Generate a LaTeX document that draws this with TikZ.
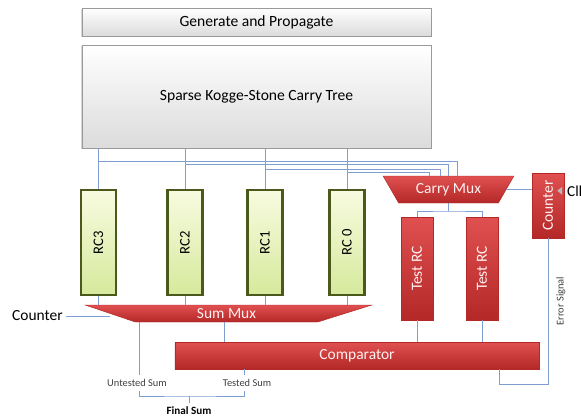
\documentclass[tikz,border=0pt]{standalone}
\usepackage{fontspec}
\setmainfont{Carlito}
\usetikzlibrary{shapes.geometric,shadows,calc}
\definecolor{Wire}{HTML}{7F9FD3}
\definecolor{BoxLine}{HTML}{9A9A9A}
\definecolor{MuxTop}{HTML}{E05050}
\definecolor{MuxBot}{HTML}{B42828}
\definecolor{RCLine}{HTML}{4B5A1C}
\definecolor{RCTop}{HTML}{F8FBE0}
\definecolor{RCBot}{HTML}{D6E99C}
\tikzset{
  graybox/.style={draw=BoxLine,top color=white,bottom color=gray!28,minimum width=10.47cm,
    drop shadow={shadow xshift=-1.2pt,shadow yshift=-1.2pt,opacity=.35},font=\fontsize{13.3}{15}\selectfont},
  redbox/.style={draw=MuxBot,top color=MuxTop,bottom color=MuxBot,text=red!6,inner sep=0pt,font=\fontsize{13.2}{15}\selectfont},
  muxbox/.style={redbox,trapezium,shape border rotate=180,trapezium stretches=true},
  rcbox/.style={draw=RCLine,line width=2pt,top color=RCTop,bottom color=RCBot,minimum width=1.05cm,
    minimum height=3.15cm,inner sep=0pt,font=\fontsize{12.5}{14}\selectfont},
  wire/.style={Wire,line width=.6pt},
  lbl/.style={font=\fontsize{8.9}{10}\selectfont,text=black!75}
}
\begin{document}
\begin{tikzpicture}[x=.03cm,y=-.03cm]
\useasboundingbox (0,0) rectangle (581,417);
\node[graybox,minimum height=.84cm] (gp) at (256.5,22) {Generate and Propagate};
\node[graybox,minimum height=3.09cm] (tree) at (256.5,96.5) {Sparse Kogge-Stone Carry Tree};
\foreach \r/\x/\n in {rc3/98.5/RC3,rc2/185/RC2,rc1/265/RC1,rc0/347/RC 0}
  \node[rcbox] (\r) at (\x,242.5) {\rotatebox{90}{\n}};
\node[muxbox,trapezium left angle=51,trapezium right angle=51,minimum width=3.93cm,minimum height=.81cm] (cmux) at (448.5,189.5) {Carry Mux};
\node[muxbox,trapezium left angle=30,trapezium right angle=32,minimum width=8.61cm,minimum height=.51cm] (smux) at (226.5,313.5) {Sum Mux};
\node[redbox,minimum width=.96cm,minimum height=3.09cm] (trc1) at (417,268.5) {\rotatebox{90}{Test RC}};
\node[redbox,minimum width=.96cm,minimum height=3.09cm] (trc2) at (482,268.5) {\rotatebox{90}{Test RC}};
\node[redbox,minimum width=.96cm,minimum height=1.95cm] (cnt) at (548,205.5) {\rotatebox{90}{Counter}};
\node[redbox,minimum width=10.92cm,minimum height=.81cm] (cmp) at (357,355.5) {Comparator};
\fill[gray!55] (cnt.north east) ++(-2,14) -- ++(-5,4) -- ++(5,4) -- cycle;
\node[anchor=west,inner sep=0pt,font=\fontsize{13}{15}\selectfont] (clk) at (567,191) {Clk};
\node[anchor=west,inner sep=0pt,font=\fontsize{13.2}{15}\selectfont] (ctr) at (12,316) {Counter};
\node[lbl,rotate=90] (err) at (561,301) {Error Signal};
\node[lbl] (ut) at (137,383) {Untested Sum};
\node[lbl] (ts) at (247,383) {Tested Sum};
\node[lbl,font=\bfseries\fontsize{9.5}{11}\selectfont,text=black] (fs) at (189,411) {Final Sum};
% carry tree outputs
\foreach \r/\y/\x in {rc3/161/457,rc2/164/448,rc1/169/440,rc0/172/429}{
  \draw[wire] (tree.south -| \r.north) -- (\r.north);
  \draw[wire] (\r.north |- 0,\y) -| (\x,0 |- cmux.north);
  \draw[wire] (\r.south) -- (\r.south |- smux.north);
}
\coordinate (split) at (cmux.south |- 0,211);
\draw[wire] (cmux.south) -- (split) (trc1.north) |- (split) -| (trc2.north);
\draw[wire] (cmux.east) -- (cmux.east -| cnt.west);
\foreach \t in {trc1,trc2} \draw[wire] (\t.south) -- (\t.south |- cmp.north);
\draw[wire] (cmp.south -| 499,0) |- (cnt.south |- 0,384) -- (cnt.south);
\draw[wire] (ctr.east) ++(3,0) -- (ctr.east -| smux.west);
\draw[wire] (smux.south -| 224,0) -- (cmp.north -| 224,0);
\draw[wire] (smux.south -| 139,0) -- (ut.north -| 139,0);
\draw[wire] (cmp.south -| 244,0) -- (ts.north -| 244,0);
\coordinate (join) at (fs.north |- 0,396);
\draw[wire] (ut.south -| 139,0) |- (join) -| (ts.south -| 244,0);
\draw[wire] (join) -- (fs.north);
\end{tikzpicture}
\end{document}
